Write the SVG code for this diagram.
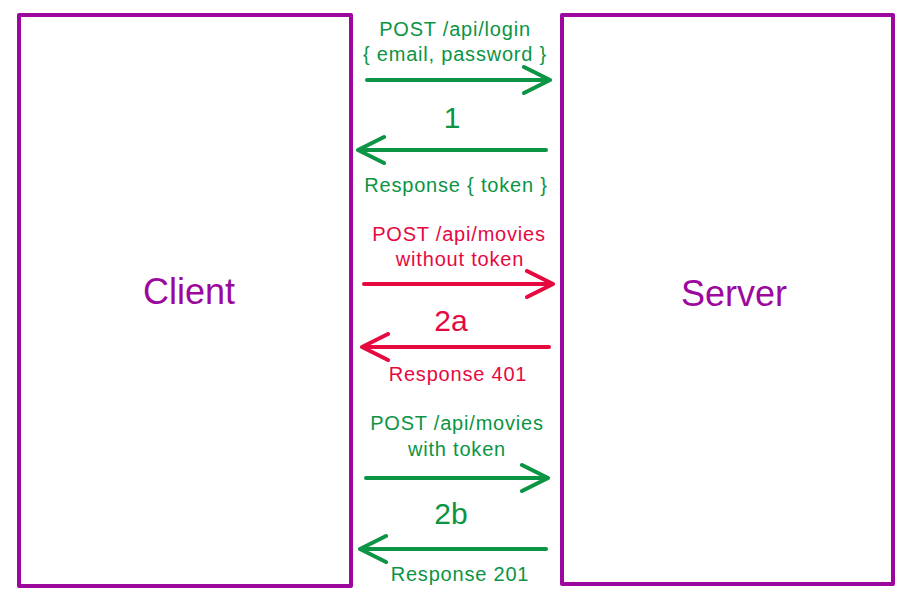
<svg xmlns="http://www.w3.org/2000/svg" width="912" height="601" viewBox="0 0 912 601">
<style>
  .box { fill: #ffffff; stroke: #9c089e; stroke-width: 4; stroke-linejoin: round; }
  .node-label { font-family: "Liberation Sans", Arial, sans-serif; font-size: 36px; fill: #9c089e; text-anchor: middle; }
  .lbl { font-family: "Liberation Sans", Arial, sans-serif; font-size: 20px; letter-spacing: 0.8px; text-anchor: middle; }
  .num { font-family: "Liberation Sans", Arial, sans-serif; font-size: 30px; text-anchor: middle; }
  .g { fill: #0b9444; }
  .r { fill: #e5093f; }
  .ag { stroke: #0b9444; stroke-width: 4; fill: none; stroke-linecap: round; stroke-linejoin: round; }
  .ar { stroke: #e5093f; stroke-width: 4; fill: none; stroke-linecap: round; stroke-linejoin: round; }
</style>
<rect width="912" height="601" fill="#ffffff"/>
<g id="client">
  <rect class="box" x="19" y="15" width="332" height="571"/>
  <text class="node-label" x="189" y="304">Client</text>
</g>
<g id="server">
  <rect class="box" x="562" y="15" width="331" height="569"/>
  <text class="node-label" x="734" y="306">Server</text>
</g>
<g id="connectors">
  <path class="ag" d="M367 80 L550 80 M524 67 L550 80 L524 93"/>
  <path class="ag" d="M546 150 L358 150 M384 137 L358 150 L384 163"/>
  <path class="ar" d="M364 284 L553 284 M527 271 L553 284 L527 297"/>
  <path class="ar" d="M549 347 L362 347 M388 334 L362 347 L388 360"/>
  <path class="ag" d="M366 478 L548 478 M522 465 L548 478 L522 491"/>
  <path class="ag" d="M546 549 L360 549 M386 536 L360 549 L386 562"/>
</g>
<g id="labels">
  <text class="lbl g" x="455" y="36">POST /api/login</text>
  <text class="lbl g" x="455" y="61">{ email, password }</text>
  <text class="num g" x="452" y="128">1</text>
  <text class="lbl g" x="456" y="192">Response { token }</text>
  <text class="lbl r" x="459" y="241">POST /api/movies</text>
  <text class="lbl r" x="460" y="266">without token</text>
  <text class="num r" x="451" y="331">2a</text>
  <text class="lbl r" x="458" y="381">Response 401</text>
  <text class="lbl g" x="457" y="430">POST /api/movies</text>
  <text class="lbl g" x="457" y="456">with token</text>
  <text class="num g" x="451" y="524">2b</text>
  <text class="lbl g" x="460" y="581">Response 201</text>
</g>
</svg>
